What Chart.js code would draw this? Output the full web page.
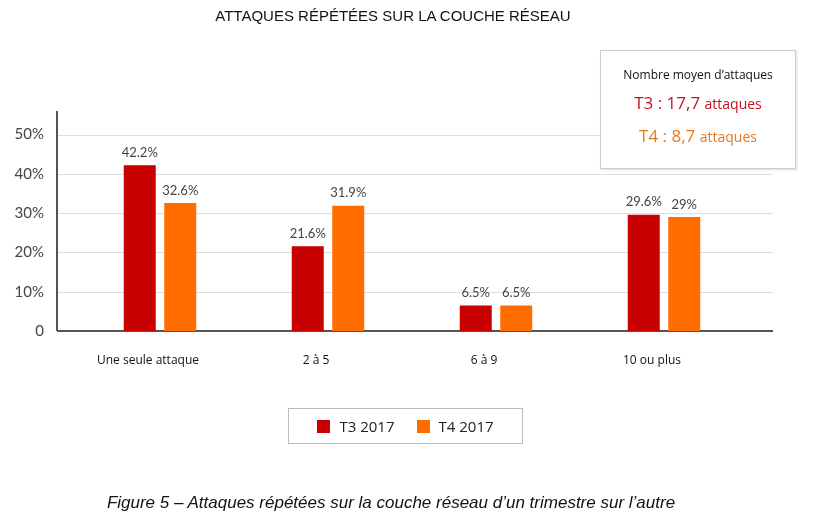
<!DOCTYPE html>
<html><head><meta charset="utf-8">
<script src="https://cdn.jsdelivr.net/npm/chart.js@4"></script>
<style>
body{margin:0;background:#fff;font-family:"Liberation Sans",Arial,sans-serif;}
#wrap{position:relative;width:821px;height:527px;}
canvas{position:absolute;left:0;top:0;}
.title{position:absolute;left:0;width:786px;top:7px;text-align:center;font-size:15px;color:#111;}
.info{position:absolute;left:600px;top:50px;width:194px;height:117px;border:1px solid #ccc;box-shadow:1px 1px 2px #ddd;background:#fff;text-align:center;font-family:"Open Sans",sans-serif;}
.info .h{font-size:12px;margin-top:15px;color:#111;}
.info .t3{color:#c8101e;font-size:17px;margin-top:8px;}
.info .t4{color:#e8791c;font-size:17px;margin-top:10px;}
.info small{font-size:14px;}
.legend{position:absolute;left:288px;top:408px;width:233px;height:34px;border:1px solid #bbb;font-family:"Open Sans",sans-serif;font-size:15px;color:#222;display:flex;align-items:center;justify-content:center;gap:22px;}
.sw{display:inline-block;width:13px;height:13px;margin-right:9px;vertical-align:-1px;}
.cap{position:absolute;left:0;width:782px;top:493px;text-align:center;font-style:italic;font-size:17px;color:#111;}
</style></head>
<body><div id="wrap">
<canvas id="c" width="821" height="527"></canvas>
<div class="title">ATTAQUES RÉPÉTÉES SUR LA COUCHE RÉSEAU</div>
<div class="info"><div class="h">Nombre moyen d’attaques</div>
<div class="t3">T3 : 17,7 <small>attaques</small></div>
<div class="t4">T4 : 8,7 <small>attaques</small></div></div>
<div class="legend"><span><i class="sw" style="background:#c80000"></i>T3 2017</span><span><i class="sw" style="background:#ff6c00"></i>T4 2017</span></div>
<div class="cap">Figure 5 – Attaques répétées sur la couche réseau d’un trimestre sur l’autre</div>
</div>
<script>
const categories = ['Une seule attaque', '2 à 5', '6 à 9', '10 ou plus'];
const t3Values = [42.2, 21.6, 6.5, 29.6];
const t4Values = [32.6, 31.9, 6.5, 29];
const t3Labels = ['42.2%', '21.6%', '6.5%', '29.6%'];
const t4Labels = ['32.6%', '31.9%', '6.5%', '29%'];
const yTicks = [0, 10, 20, 30, 40, 50];

// gridlines + axis lines spanning wider than the category area
const axisPlugin = {
  id: 'axisLines',
  beforeDatasetsDraw(chart) {
    const ctx = chart.ctx, y = chart.scales.y;
    const left = 57, right = 773;
    ctx.save();
    ctx.strokeStyle = '#dedede'; ctx.lineWidth = 1;
    yTicks.slice(1).forEach(v => {
      const py = Math.round(y.getPixelForValue(v)) + 0.5;
      ctx.beginPath(); ctx.moveTo(left, py); ctx.lineTo(right, py); ctx.stroke();
    });
    ctx.strokeStyle = '#555'; ctx.lineWidth = 2;
    const base = y.getPixelForValue(0);
    ctx.beginPath(); ctx.moveTo(left, base); ctx.lineTo(right, base); ctx.stroke();
    ctx.beginPath(); ctx.moveTo(left, y.getPixelForValue(y.max)); ctx.lineTo(left, base); ctx.stroke();
    ctx.fillStyle = '#444'; ctx.font = '15px Lato, sans-serif'; ctx.textAlign = 'right'; ctx.textBaseline = 'middle';
    yTicks.forEach(v => ctx.fillText(v === 0 ? '0' : v + '%', 44, y.getPixelForValue(v)));
    ctx.restore();
  },
  afterDatasetsDraw(chart) {
    const ctx = chart.ctx;
    ctx.save();
    ctx.fillStyle = '#444'; ctx.font = '13px Lato, sans-serif'; ctx.textAlign = 'center'; ctx.textBaseline = 'bottom';
    [t3Labels, t4Labels].forEach((labels, di) => {
      chart.getDatasetMeta(di).data.forEach((bar, i) => ctx.fillText(labels[i], bar.x, bar.y - 6));
    });
    ctx.restore();
  }
};

new Chart(document.getElementById('c'), {
  type: 'bar',
  data: {
    labels: categories,
    datasets: [
      { label: 'T3 2017', data: t3Values, backgroundColor: '#c80000' },
      { label: 'T4 2017', data: t4Values, backgroundColor: '#ff6c00' }
    ]
  },
  options: {
    responsive: false, animation: false,
    layout: { padding: { left: 76, right: 73, top: 111, bottom: 156 } },
    plugins: { legend: { display: false }, tooltip: { enabled: false } },
    datasets: { bar: { categoryPercentage: 0.482, barPercentage: 0.79 } },
    scales: {
      x: {
        grid: { display: false }, border: { display: false },
        ticks: { color: '#111', font: { family: 'Open Sans', size: 12 }, maxRotation: 0, labelOffset: -12, padding: 14 },
        afterFit(s) { s.height = 40; }
      },
      y: {
        display: false, min: 0, max: 56
      }
    }
  },
  plugins: [axisPlugin]
});
</script>
</body></html>
